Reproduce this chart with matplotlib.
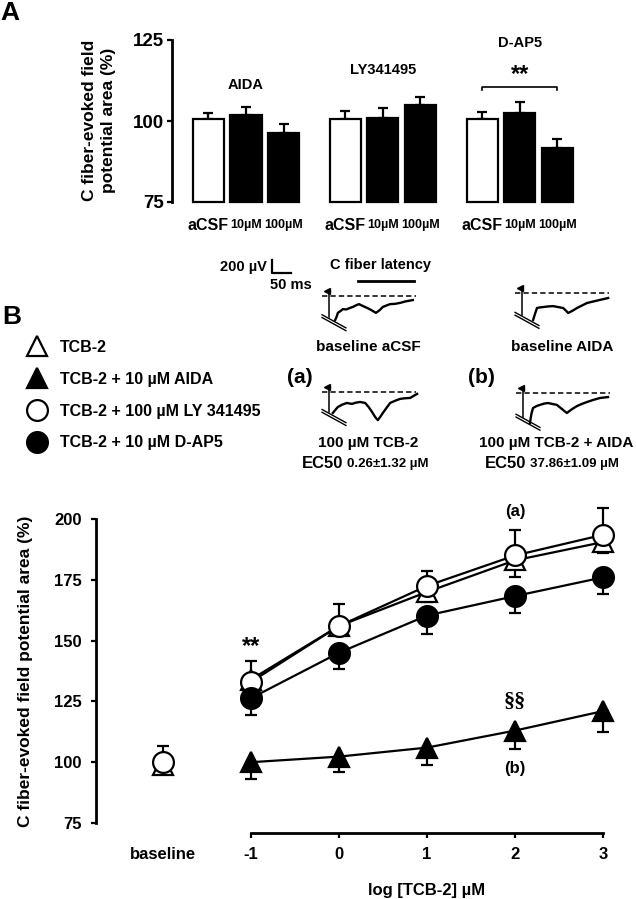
import numpy as np
import matplotlib
matplotlib.use('Agg')
import matplotlib.pyplot as plt
from matplotlib.lines import Line2D

plt.rcParams['font.family'] = ['Liberation Sans', 'DejaVu Sans']
plt.rcParams['font.weight'] = 'bold'

W, H = 636, 899

# ---------------- Panel A data ----------------
GROUPS_A = ['AIDA', 'LY341495', 'D-AP5']
CONDS_A = ['aCSF', '10µM', '100µM']
AIDA_MEAN = [100.5, 102.0, 96.3]
AIDA_SEM = [1.9, 2.2, 2.9]
LY_MEAN = [100.5, 101.0, 105.0]
LY_SEM = [2.6, 2.9, 2.5]
DAP5_MEAN = [100.5, 102.5, 91.8]
DAP5_SEM = [2.4, 3.3, 2.6]
BAR_FILL = ['white', 'black', 'black']
A_YTICKS = [75, 100, 125]

# ---------------- Panel B data ----------------
B_XTICKS = [-2, -1, 0, 1, 2, 3]
B_XLABELS = ['baseline', '-1', '0', '1', '2', '3']
B_YTICKS = [75, 100, 125, 150, 175, 200]
X_WITH_BASE = [-2, -1, 0, 1, 2, 3]
X_DOSE = [-1, 0, 1, 2, 3]
TCB2_MEAN = [99, 134, 156, 170, 183, 190.5]
TCB2_SEM = [4, 4, 4, 4, 7, 4.5]
LY_B_MEAN = [100, 133, 156, 172.5, 185, 193.5]
LY_B_SEM = [6.7, 8.5, 9, 6, 10.5, 11]
DAP5_B_MEAN = [126.3, 145, 160.3, 168.3, 176]
DAP5_B_SEM = [7, 6.5, 7.5, 6.8, 7]
AIDA_B_MEAN = [100, 102.3, 106, 113, 121]
AIDA_B_SEM = [7, 6.5, 7, 7.5, 8.5]
LEGEND_LABELS = ['TCB-2', 'TCB-2 + 10 µM AIDA', 'TCB-2 + 100 µM LY 341495',
                 'TCB-2 + 10 µM D-AP5']

# ---------------- Example traces (ms, µV) ----------------
T1_T = [16, 20, 23, 30, 36, 45, 55, 62, 70, 78, 88, 99, 110, 122, 131, 140, 150, 159, 172, 185, 200, 218]
T1_V = [-385, -330, -270, -240, -210, -215, -190, -175, -150, -130, -160, -190, -225, -270, -230, -175, -150, -130, -125, -110, -85, -65]
T2_T = [29, 34, 39, 47, 55, 68, 81, 94, 107, 114, 120, 131, 143, 156, 169, 186, 203, 214, 224]
T2_V = [-430, -330, -240, -230, -225, -215, -210, -225, -240, -280, -320, -285, -240, -200, -160, -135, -110, -95, -80]
T3_T = [10, 16, 23, 35, 47, 54, 60, 70, 81, 94, 103, 112, 120, 127, 133, 140, 150, 159, 172, 185, 198, 211, 229]
T3_V = [-335, -290, -240, -200, -175, -185, -190, -170, -160, -175, -240, -320, -400, -450, -400, -335, -250, -175, -140, -110, -100, -95, -30]
T4_T = [18, 22, 26, 35, 44, 55, 65, 76, 88, 100, 114, 127, 140, 153, 166, 183, 200, 211, 221]
T4_V = [-480, -330, -240, -210, -190, -170, -160, -175, -190, -250, -320, -260, -210, -175, -145, -110, -80, -72, -65]
BASELINE_T = [-18, 225]
LATENCY_T = [75, 221]
SCALE_UV = 200
SCALE_MS = 50

MS_PER_PX = 2.6
UV_PER_PX = 16

fig = plt.figure(figsize=(W / 100, H / 100), dpi=100)


def px_rect(l, t, w, h):
    return [l / W, 1 - (t + h) / H, w / W, h / H]


def ftext(x, y, s, **kw):
    kw.setdefault('ha', 'center')
    kw.setdefault('va', 'center')
    return fig.text(x / W, 1 - y / H, s, **kw)


# ================= Panel A =================
GROUP_STEP = 3.65
axA = fig.add_axes(px_rect(172, 40, 418, 162))
axA.set_ylim(75, 125)
axA.set_xlim(-0.973, 10.17)
for sp in ['top', 'right', 'bottom']:
    axA.spines[sp].set_visible(False)
axA.spines['left'].set_linewidth(2)
axA.set_yticks(A_YTICKS)
axA.tick_params(axis='y', labelsize=13.5, length=3.6, width=1.6, pad=2)
axA.set_xticks([])
means_all = [AIDA_MEAN, LY_MEAN, DAP5_MEAN]
sems_all = [AIDA_SEM, LY_SEM, DAP5_SEM]
for g, (m, s) in enumerate(zip(means_all, sems_all)):
    xs = g * GROUP_STEP + np.arange(3)
    m = np.array(m)
    axA.errorbar(xs, m, yerr=[np.zeros(3), s], fmt='none', ecolor='k',
                 elinewidth=1.6, capsize=3.8, capthick=1.6, zorder=1, clip_on=False)
    axA.bar(xs, m - 75, bottom=75, width=0.83, color=BAR_FILL, edgecolor='k',
            linewidth=1.6, zorder=2, clip_on=False)
    for i, c in enumerate(CONDS_A):
        axA.text(xs[i], 67.9, c, ha='center', va='center',
                 fontsize=11.5 if i == 0 else 9, clip_on=False)
label_y = [111, 115.7, 124.1]
for g, name in enumerate(GROUPS_A):
    axA.text(g * GROUP_STEP + 1, label_y[g], name, ha='center', va='center', fontsize=10.5)
bx0, bx1 = 2 * GROUP_STEP, 2 * GROUP_STEP + 2
axA.plot([bx0, bx0, bx1, bx1], [109.7, 110.5, 110.5, 109.7], color='k', lw=1.2, clip_on=False)
axA.text((bx0 + bx1) / 2, 114.3, '**', ha='center', va='center', fontsize=17)

ftext(10, 13, 'A', fontsize=19)
ftext(90, 120, 'C fiber-evoked field', rotation=90, fontsize=12.5)
ftext(109, 120, 'potential area (%)', rotation=90, fontsize=12.5)


# ================= Traces =================
def trace_axes(x0, y0):
    t_lo, t_hi, v_lo, v_hi = -40, 250, -700, 200
    left = x0 + t_lo / MS_PER_PX
    top = y0 - v_hi / UV_PER_PX
    ax = fig.add_axes(px_rect(left, top, (t_hi - t_lo) / MS_PER_PX, (v_hi - v_lo) / UV_PER_PX))
    ax.set_xlim(t_lo, t_hi)
    ax.set_ylim(v_lo, v_hi)
    ax.axis('off')
    return ax


def draw_trace(ax, t, v, depth):
    ax.plot(BASELINE_T, [0, 0], color='k', lw=1.1, dashes=(3.5, 2))
    ax.plot([0, 0], [90, -depth], color='k', lw=1.1)
    ax.plot([-4], [75], marker='<', ms=4, color='k')
    ax.plot([-18, 44], [-depth + 40, -depth - 170], color='k', lw=1.0)
    ax.plot([-18, 44], [-depth - 5, -depth - 215], color='k', lw=1.0)
    ax.plot(t, v, color='k', lw=1.7)


ax1 = trace_axes(329, 296)
draw_trace(ax1, T1_T, T1_V, 340)
ax1.plot(LATENCY_T, [240, 240], color='k', lw=2, clip_on=False)
sx, sy = -148, 368
ax1.plot([sx, sx, sx + SCALE_MS], [sy + SCALE_UV, sy, sy], color='k', lw=1.6, clip_on=False)
ax2 = trace_axes(522, 293)
draw_trace(ax2, T2_T, T2_V, 350)
ax3 = trace_axes(329, 392)
draw_trace(ax3, T3_T, T3_V, 320)
ax4 = trace_axes(523, 393)
draw_trace(ax4, T4_T, T4_V, 380)

ftext(267, 267, '200 µV', ha='right', fontsize=10.5)
ftext(270, 285, '50 ms', ha='left', fontsize=10.5)
ftext(380, 265, 'C fiber latency', fontsize=10.5)
ftext(368, 347, 'baseline aCSF', fontsize=11)
ftext(562, 347, 'baseline AIDA', fontsize=11)
ftext(300, 377, '(a)', fontsize=15)
ftext(481, 377, '(b)', fontsize=15)
ftext(368, 443, '100 µM TCB-2', fontsize=11)
ftext(556, 443, '100 µM TCB-2 + AIDA', fontsize=11)
ftext(343, 463, 'EC50', ha='right', fontsize=12)
ftext(347, 464, '0.26±1.32 µM', ha='left', fontsize=9.5)
ftext(526, 463, 'EC50', ha='right', fontsize=12)
ftext(530, 464, '37.86±1.09 µM', ha='left', fontsize=9.5)

# ================= Panel B =================
axB = fig.add_axes(px_rect(96, 500, 524.6, 333))
axB.set_xlim(-2.76, 3.2)
axB.set_ylim(70.89, 207.81)
for sp in ['top', 'right']:
    axB.spines[sp].set_visible(False)
for sp in ['left', 'bottom']:
    axB.spines[sp].set_linewidth(2)
axB.spines['left'].set_bounds(75, 200)
axB.spines['bottom'].set_bounds(-1, 3)
axB.set_yticks(B_YTICKS)
axB.set_xticks(B_XTICKS)
axB.set_xticklabels(B_XLABELS)
axB.tick_params(axis='y', labelsize=12, length=3.4, width=1.6, pad=7)
axB.tick_params(axis='x', labelsize=12, length=3.4, width=1.6, pad=7)
axB.xaxis.get_major_ticks()[0].tick1line.set_visible(False)


def series(x, y, err, up, marker, face, z, connect_start):
    x = np.array(x, float)
    y = np.array(y, float)
    err = np.array(err, float)
    zero = np.zeros_like(err)
    yerr = [zero, err] if up else [err, zero]
    sel = x >= connect_start
    axB.plot(x[sel], y[sel], color='k', lw=1.6, zorder=z)
    axB.errorbar(x, y, yerr=yerr, fmt='none', ecolor='k', elinewidth=1.6,
                 capsize=4.6, capthick=1.6, zorder=z)
    axB.plot(x, y, ls='none', marker=marker, ms=15, mfc=face, mec='k', mew=1.6,
             zorder=z + 0.5)


series(X_WITH_BASE, TCB2_MEAN, TCB2_SEM, False, '^', 'white', 3, -1)
series(X_WITH_BASE, LY_B_MEAN, LY_B_SEM, True, 'o', 'white', 4, -1)
series(X_DOSE, DAP5_B_MEAN, DAP5_B_SEM, False, 'o', 'black', 5, -1)
series(X_DOSE, AIDA_B_MEAN, AIDA_B_SEM, False, '^', 'black', 6, -1)

axB.text(-1, 147.5, '**', ha='center', va='center', fontsize=17)
axB.text(2, 124.6, '§§', ha='center', va='center', fontsize=16,
         family=['Liberation Serif', 'DejaVu Serif'])
axB.text(2, 203, '(a)', ha='center', va='center', fontsize=12)
axB.text(2, 97.5, '(b)', ha='center', va='center', fontsize=12)
ftext(26, 671, 'C fiber-evoked field potential area (%)', rotation=90, fontsize=12.5)
ftext(427, 890, 'log [TCB-2] µM', fontsize=12)
ftext(12, 317, 'B', fontsize=19)

handles = [
    Line2D([], [], ls='none', marker='^', ms=15, mfc='white', mec='k', mew=1.6),
    Line2D([], [], ls='none', marker='^', ms=15, mfc='black', mec='k', mew=1.6),
    Line2D([], [], ls='none', marker='o', ms=15, mfc='white', mec='k', mew=1.6),
    Line2D([], [], ls='none', marker='o', ms=15, mfc='black', mec='k', mew=1.6),
]
fig.legend(handles, LEGEND_LABELS, loc='upper left',
           bbox_to_anchor=(26 / W, 1 - 340 / H), frameon=False,
           prop={'size': 11.5, 'weight': 'bold'}, handlelength=1.4,
           handletextpad=0.75, labelspacing=1.05, borderpad=0, borderaxespad=0)

fig.savefig('out.png', dpi=100)
